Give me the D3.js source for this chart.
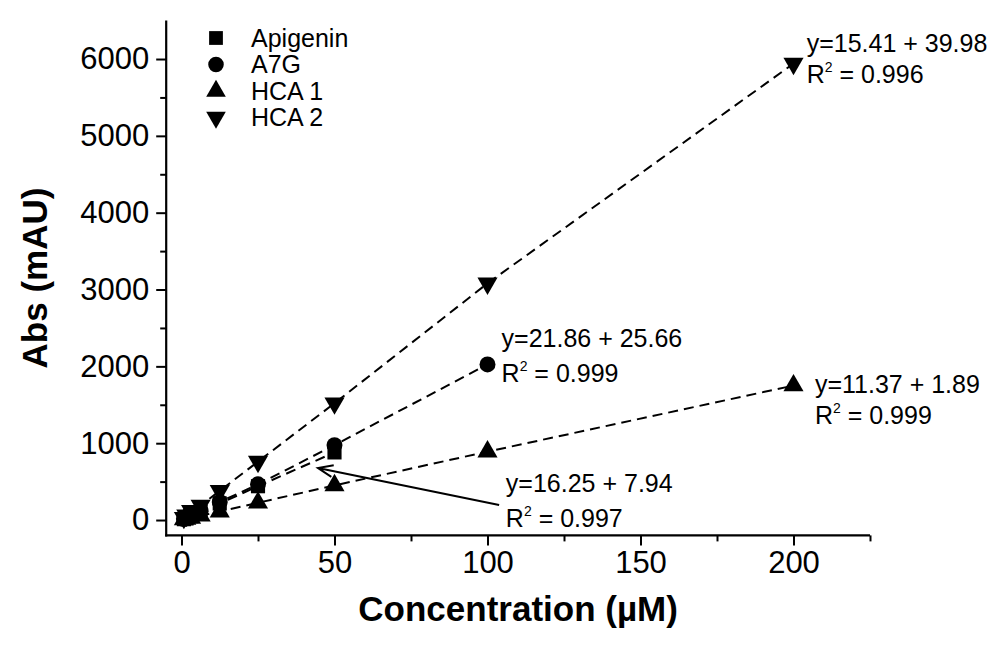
<!DOCTYPE html>
<html>
<head>
<meta charset="utf-8">
<script src="https://cdn.jsdelivr.net/npm/d3@7"></script>
<style>
  body { margin: 0; background: #fff; }
  text { font-family: "Liberation Sans", Arial, sans-serif; fill: #000; }
</style>
</head>
<body>
<div id="wrapper"></div>
<script>
// 1. Data

const concentrations = [0.78, 1.56, 3.13, 6.25, 12.5, 25, 50, 100, 200];

const apigeninValues = [11, 22, 50, 105, 215, 440, 880];
const a7gValues = [12, 25, 55, 115, 235, 465, 975, 2025];
const hca1Values = [7, 14, 28, 55, 110, 225, 450, 890, 1750];
const hca2Values = [30, 60, 120, 190, 380, 760, 1520, 3080, 5940];

const seriesNames = ["Apigenin", "A7G", "HCA 1", "HCA 2"];
const seriesValues = [apigeninValues, a7gValues, hca1Values, hca2Values];

const xTicks = [0, 50, 100, 150, 200];
const yTicks = [0, 1000, 2000, 3000, 4000, 5000, 6000];

// fit labels: equation, R² value, position in data units
const fitLabels = [
  { eq: "y=16.25 + 7.94", r2: "0.997", x: 106, yEq: 370, yR2: -90 },
  { eq: "y=21.86 + 25.66", r2: "0.999", x: 104.6, yEq: 2250, yR2: 1790 },
  { eq: "y=11.37 + 1.89", r2: "0.999", x: 207, yEq: 1650, yR2: 1250 },
  { eq: "y=15.41 + 39.98", r2: "0.996", x: 204.3, yEq: 6095, yR2: 5690 },
];

// arrow from the Apigenin label to its line (data units)
const arrowFrom = [103.8, 195];
const arrowTo = [44.6, 677];

// 2. Dimensions

const dimensions = {
  width: 992,
  height: 648,
};

const svg = d3
  .select("#wrapper")
  .append("svg")
  .attr("width", dimensions.width)
  .attr("height", dimensions.height);

// 3. Scales

const xScale = d3.scaleLinear().domain([-5, 225]).range([166.2, 870]);
const yScale = d3.scaleLinear().domain([-200, 6500]).range([535.4, 20.6]);

const symbolTypes = [d3.symbolSquare, d3.symbolCircle, d3.symbolTriangle, d3.symbolTriangle];
const symbolSizes = [200, 200, 175, 175];
const symbolRotation = [0, 0, 0, 180];

const series = seriesNames.map((name, i) => ({
  name,
  index: i,
  points: seriesValues[i].map((v, j) => ({ x: concentrations[j], y: v })),
}));

// 4. Axes

const xAxis = svg
  .append("g")
  .attr("transform", `translate(0, ${yScale.range()[0]})`);

xAxis.call(
  d3.axisBottom(xScale).tickValues(d3.range(25, 226, 50)).tickSize(6).tickFormat("")
);
xAxis
  .append("g")
  .call(
    d3.axisBottom(xScale).tickValues(xTicks).tickSize(10).tickPadding(6).tickFormat(d3.format("d"))
  );

const yAxis = svg
  .append("g")
  .attr("transform", `translate(${xScale.range()[0]}, 0)`);

yAxis.call(
  d3.axisLeft(yScale).tickValues(d3.range(500, 6500, 1000)).tickSize(6).tickFormat("")
);
yAxis
  .append("g")
  .call(
    d3.axisLeft(yScale).tickValues(yTicks).tickSize(10).tickPadding(7).tickFormat(d3.format("d"))
  );

svg.selectAll(".domain").remove();
yAxis
  .append("path")
  .attr("d", `M0,${yScale.range()[1]}V${yScale.range()[0] + 1}`)
  .attr("stroke", "#000")
  .attr("stroke-width", 2.2);
xAxis
  .append("path")
  .attr("d", `M${xScale.range()[0] - 1},0H${xScale.range()[1]}`)
  .attr("stroke", "#000")
  .attr("stroke-width", 2.2);

svg.selectAll(".tick line").attr("stroke", "#000").attr("stroke-width", 2);
svg
  .selectAll(".tick text")
  .style("font-size", "31px")
  .style("font-family", "'Liberation Sans', Arial, sans-serif")
  .attr("fill", "#000");

svg
  .append("text")
  .attr("x", (xScale.range()[0] + xScale.range()[1]) / 2)
  .attr("y", 621)
  .attr("text-anchor", "middle")
  .style("font-size", "35px")
  .style("font-weight", "bold")
  .text("Concentration (\u00b5M)");

svg
  .append("text")
  .attr("transform", `translate(47, ${(yScale.range()[0] + yScale.range()[1]) / 2}) rotate(-90)`)
  .attr("text-anchor", "middle")
  .style("font-size", "35px")
  .style("font-weight", "bold")
  .text("Abs (mAU)");

// 5. Lines and markers

const line = d3
  .line()
  .x((d) => xScale(d.x))
  .y((d) => yScale(d.y));

svg
  .selectAll(".fit")
  .data(series)
  .join("path")
  .attr("class", "fit")
  .attr("d", (d) => line(d.points))
  .attr("fill", "none")
  .attr("stroke", "#000")
  .attr("stroke-width", 2)
  .attr("stroke-dasharray", "10,6");

series.forEach((s) => {
  const sym = d3.symbol().type(symbolTypes[s.index]).size(symbolSizes[s.index]);
  svg
    .append("g")
    .selectAll("path")
    .data(s.points)
    .join("path")
    .attr("d", sym)
    .attr(
      "transform",
      (d) => `translate(${xScale(d.x)}, ${yScale(d.y)}) rotate(${symbolRotation[s.index]})`
    )
    .attr("fill", "#000");
});

// 6. Legend

const legend = svg.append("g").attr("transform", "translate(216, 38)");
const legendRows = legend
  .selectAll("g")
  .data(seriesNames)
  .join("g")
  .attr("transform", (d, i) => `translate(0, ${i * 26.5})`);

legendRows
  .append("path")
  .attr("d", (d, i) => d3.symbol().type(symbolTypes[i]).size(symbolSizes[i] * 0.95)())
  .attr("transform", (d, i) => `rotate(${symbolRotation[i]})`)
  .attr("fill", "#000");

legendRows
  .append("text")
  .attr("x", 35)
  .attr("dy", "0.35em")
  .style("font-size", "25px")
  .text((d) => d);

// 7. Fit annotations

fitLabels.forEach((f) => {
  svg
    .append("text")
    .attr("x", xScale(f.x))
    .attr("y", yScale(f.yEq))
    .style("font-size", "25px")
    .text(f.eq);
  const r = svg
    .append("text")
    .attr("x", xScale(f.x))
    .attr("y", yScale(f.yR2))
    .style("font-size", "25px");
  r.append("tspan").text("R");
  r.append("tspan").attr("dy", -11).style("font-size", "14px").text("2");
  r.append("tspan").attr("dy", 11).text(" = " + f.r2);
});

const ax1 = xScale(arrowFrom[0]);
const ay1 = yScale(arrowFrom[1]);
const ax2 = xScale(arrowTo[0]);
const ay2 = yScale(arrowTo[1]);
const angle = Math.atan2(ay1 - ay2, ax1 - ax2);
const headLen = 16;
const headSpread = 0.38;

svg
  .append("path")
  .attr(
    "d",
    `M${ax1},${ay1}L${ax2},${ay2}` +
      `M${ax2 + headLen * Math.cos(angle - headSpread)},${ay2 + headLen * Math.sin(angle - headSpread)}` +
      `L${ax2},${ay2}` +
      `L${ax2 + headLen * Math.cos(angle + headSpread)},${ay2 + headLen * Math.sin(angle + headSpread)}`
  )
  .attr("fill", "none")
  .attr("stroke", "#000")
  .attr("stroke-width", 2);
</script>
</body>
</html>
